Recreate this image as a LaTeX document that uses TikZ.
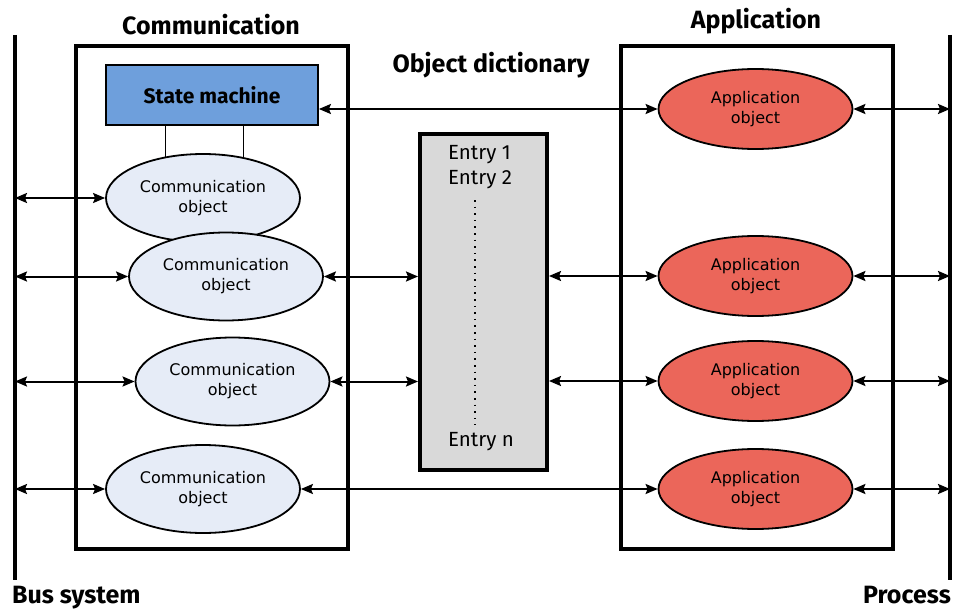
\documentclass[tikz,border=0pt]{standalone}
\usepackage{fontspec}
\setmainfont{DejaVu Sans}
\newfontfamily\headfont{Fira Sans}
\usepackage{xcolor}
\usepackage{tikz}
\usetikzlibrary{shapes,shapes.geometric}
\usetikzlibrary{calc,arrows.meta,positioning}
\definecolor{commfill}{HTML}{E6ECF7}
\definecolor{appfill}{HTML}{EB665A}
\definecolor{statefill}{HTML}{6E9FDC}
\definecolor{dictfill}{HTML}{D9D9D9}
\tikzset{
  frame/.style={draw, line width=4pt, minimum width=272pt, minimum height=503pt, inner sep=0pt},
  heading/.style={font=\headfont\bfseries\fontsize{25}{28}\selectfont, inner sep=0pt},
  commobj/.style={ellipse, draw, line width=1.8pt, fill=commfill, minimum width=194pt, minimum height=88pt, inner sep=0pt, align=center, font=\fontsize{16}{20}\selectfont},
  appobj/.style={ellipse, draw, line width=1.8pt, fill=appfill, minimum width=194pt, minimum height=80pt, inner sep=0pt, align=center, font=\fontsize{16}{20}\selectfont},
  statebox/.style={draw, line width=1.8pt, fill=statefill, minimum width=212pt, minimum height=60pt, font=\headfont\bfseries\fontsize{21}{24}\selectfont},
  dictbox/.style={draw, line width=4pt, fill=dictfill, minimum width=127pt, minimum height=336pt, inner sep=0pt},
  entry/.style={anchor=west, inner sep=0pt, font=\headfont\fontsize{20.5}{22}\selectfont},
  biarrow/.style={line width=2pt, {Stealth[length=12pt,width=10pt,inset=2pt]}-{Stealth[length=12pt,width=10pt,inset=2pt]}},
  busline/.style={line width=4pt}
}
\begin{document}
\begin{tikzpicture}[x=1pt, y=-1pt]
\useasboundingbox (0,0) rectangle (954,610);
% bus and process lines
\coordinate (bustop) at (15,35);
\coordinate (busbot) at (15,580);
\coordinate (proctop) at (950,35);
\coordinate (procbot) at (950,580);
\draw[busline] (bustop) -- (busbot);
\draw[busline] (proctop) -- (procbot);
\node[heading, anchor=base west] (buslabel) at (12,603) {Bus system};
\node[heading, anchor=base east] (proclabel) at (951,603) {Process};

% frames
\node[frame] (commbox) at (212,297.5) {};
\node[frame] (appbox) at (756.5,297.5) {};
\node[heading] (commtitle) at (211,25) {Communication};
\node[heading] (apptitle) at (756,21) {Application};
\node[heading] (dicttitle) at (491,65) {Object dictionary};

% object dictionary
\node[dictbox] (dict) at (483.5,302) {};
\node[entry] (e1) at (448,155) {Entry 1};
\node[entry] (e2) at (448,180) {Entry 2};
\node[entry] (en) at (448,442) {Entry n};
\coordinate (dottop) at (475,200);
\coordinate (dotbot) at (475,425);
\draw[line width=1.6pt, dash pattern=on 1.6pt off 5pt] (dottop) -- (dotbot);

% communication side
\node[statebox] (state) at (212,95) {State machine};
\node[commobj] (c1) at (203,198) {Communication\\object};
\node[commobj] (c2) at (226,276.5) {Communication\\object};
\node[commobj] (c3) at (232.5,381.5) {Communication\\object};
\node[commobj] (c4) at (203,489) {Communication\\object};
\draw[line width=1.2pt] (c1.132 |- state.south) -- (c1.132);
\draw[line width=1.2pt] (c1.45 |- state.south) -- (c1.45);

% application side
\node[appobj] (a1) at (755.5,109) {Application\\object};
\node[appobj] (a2) at (755.5,276) {Application\\object};
\node[appobj] (a3) at (755.5,381) {Application\\object};
\node[appobj] (a4) at (755.5,489) {Application\\object};

% connections
\draw[biarrow] (state.east |- a1.west) -- (a1.west);
\draw[biarrow] (c1.west -| bustop) -- (c1.west);
\draw[biarrow] (c2.west -| bustop) -- (c2.west);
\draw[biarrow] (c3.west -| bustop) -- (c3.west);
\draw[biarrow] (c4.west -| bustop) -- (c4.west);
\draw[biarrow] (c2.east) -- (c2.east -| dict.west);
\draw[biarrow] (c3.east) -- (c3.east -| dict.west);
\draw[biarrow] (c4.east) -- (c4.east -| a4.west);
\draw[biarrow] (a2.west -| dict.east) -- (a2.west);
\draw[biarrow] (a3.west -| dict.east) -- (a3.west);
\draw[biarrow] (a1.east) -- (a1.east -| proctop);
\draw[biarrow] (a2.east) -- (a2.east -| proctop);
\draw[biarrow] (a3.east) -- (a3.east -| proctop);
\draw[biarrow] (a4.east) -- (a4.east -| proctop);
\end{tikzpicture}
\end{document}
